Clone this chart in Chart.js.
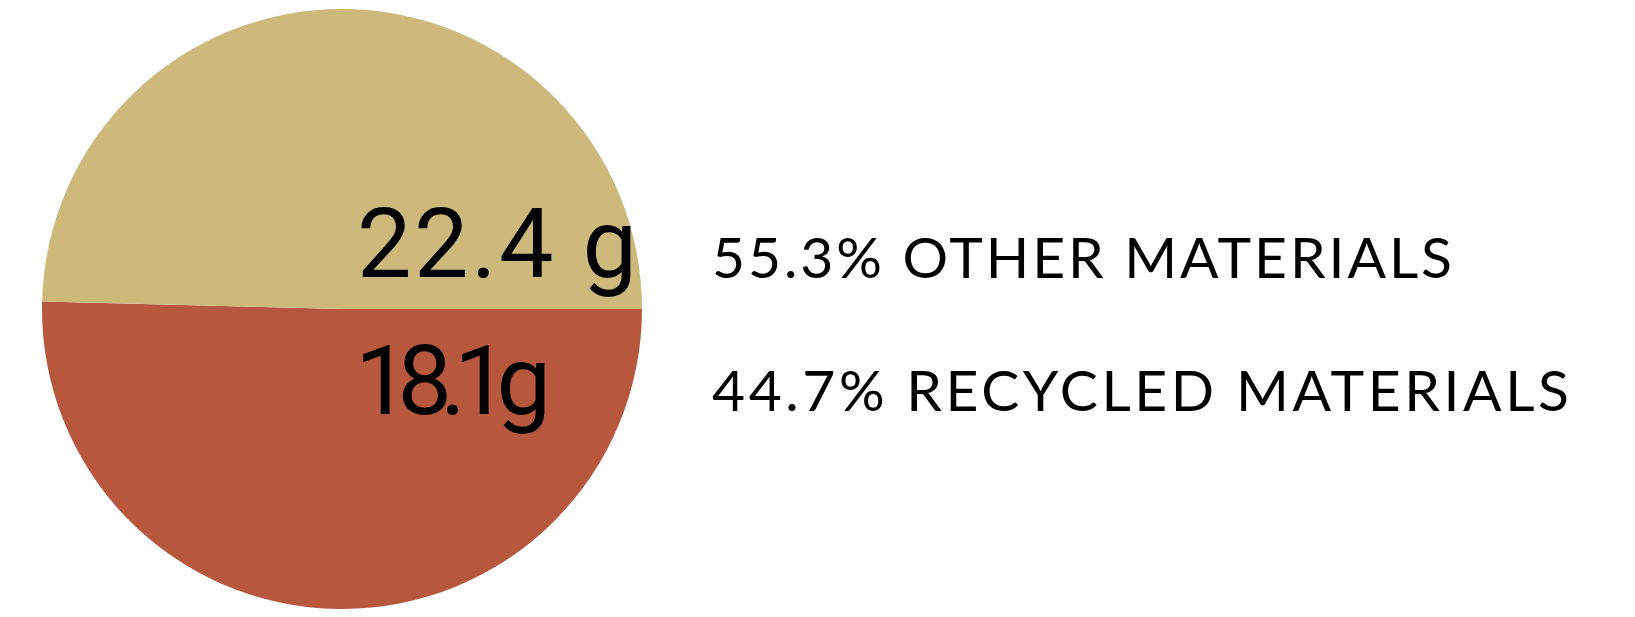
<!DOCTYPE html>
<html>
<head>
<meta charset="utf-8">
<script src="https://cdn.jsdelivr.net/npm/chart.js@4"></script>
<style>
  html, body { margin: 0; padding: 0; background: #fff; }
  #wrap { width: 1635px; height: 617px; }
</style>
</head>
<body>
<div id="wrap"><canvas id="myChart" width="1635" height="617"></canvas></div>
<script>
// data
const categories = ['RECYCLED MATERIALS', 'OTHER MATERIALS'];
const sliceShares = [50.4, 49.6];          // slice sizes as drawn in the pie
const weightLabels = ['18.1g', '22.4 g'];
const percentLabels = ['44.7%', '55.3%'];
const sliceColors = ['#B7573E', '#CDB97C'];

// draw text so it spans a given width (letter spacing stretched to fit)
function fitText(ctx, text, x, y, font, width) {
  ctx.font = font;
  ctx.letterSpacing = '0px';
  const w = ctx.measureText(text).width;
  const gap = (width - w) / Math.max(1, text.length - 1);
  ctx.letterSpacing = gap + 'px';
  ctx.fillText(text, x, y);
  ctx.letterSpacing = '0px';
}

const bigFont = '400 97px Roboto, "Noto Sans", sans-serif';
const sideFont = '400 57px Lato, "Noto Sans", sans-serif';

const labelPlugin = {
  id: 'labels',
  afterDraw(chart) {
    const ctx = chart.ctx;
    const arc = chart.getDatasetMeta(0).data[0];
    const cx = arc.x, cy = arc.y;
    ctx.save();
    ctx.fillStyle = '#000';
    ctx.textBaseline = 'alphabetic';
    ctx.textAlign = 'left';
    // weights inside the pie
    fitText(ctx, weightLabels[1], cx + 15, cy - 32, bigFont, 280);
    fitText(ctx, weightLabels[0], cx + 13, cy + 105, bigFont, 196);
    // legend text on the right
    const lx = chart.chartArea.right + 70;
    fitText(ctx, percentLabels[1] + ' ' + categories[1], lx, cy - 31, sideFont, 740);
    fitText(ctx, percentLabels[0] + ' ' + categories[0], lx, cy + 102, sideFont, 857);
    ctx.restore();
  }
};

const ctx = document.getElementById('myChart').getContext('2d');
const myChart = new Chart(ctx, {
  type: 'pie',
  data: {
    labels: categories,
    datasets: [{
      data: sliceShares,
      backgroundColor: sliceColors,
      borderWidth: 0
    }]
  },
  options: {
    responsive: false,
    animation: false,
    rotation: 90,
    layout: { padding: { left: 42, top: 9, bottom: 8, right: 993 } },
    plugins: {
      legend: { display: false },
      tooltip: { enabled: false }
    }
  },
  plugins: [labelPlugin]
});
</script>
</body>
</html>
